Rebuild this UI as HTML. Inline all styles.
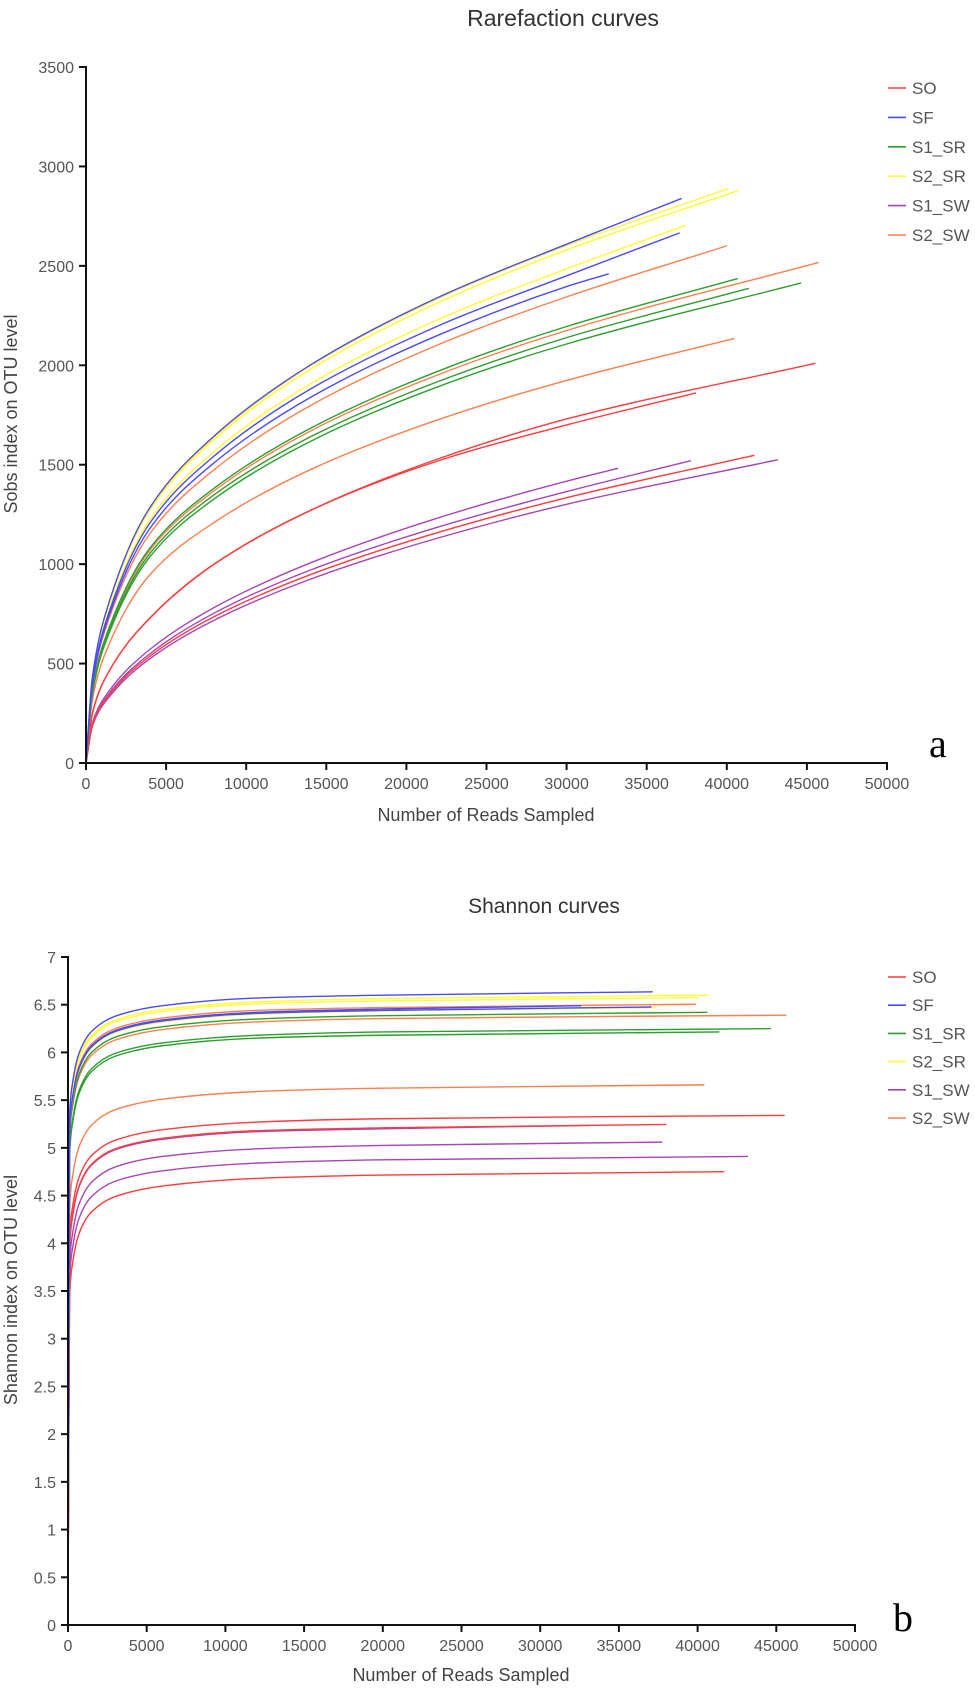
<!DOCTYPE html>
<html><head><meta charset="utf-8"><style>
html,body{margin:0;padding:0;background:#fff}
svg{display:block}
text{font-family:"Liberation Sans",Arial,sans-serif}
</style></head><body>
<svg id="fig" width="975" height="1689" viewBox="0 0 975 1689" xmlns="http://www.w3.org/2000/svg"></svg>
<script>
// ---------- data ----------
const groupNames = ["SO","SF","S1_SR","S2_SR","S1_SW","S2_SW"];
const groupColors = ["#ff3b3b","#4a4aff","#2e9e2e","#ffff33","#a845b4","#ff7f4d"];
const xTicks = [0,5000,10000,15000,20000,25000,30000,35000,40000,45000,50000];
const yTicksA = [0,500,1000,1500,2000,2500,3000,3500];
const yTicksB = [0,0.5,1,1.5,2,2.5,3,3.5,4,4.5,5,5.5,6,6.5,7];
const yTickLabelsB = ["0","0.5","1","1.5","2","2.5","3","3.5","4","4.5","5","5.5","6","6.5","7"];

// Rarefaction sample points (reads sampled) and Sobs values
const rareX = [0,400,1500,4000,8000,14000,22000,30000];
const rareCurves = [
 {g:4,end:33220,y:[0,202,368,572,782,1006,1233,1417,1482]},
 {g:4,end:37760,y:[0,195,354,550,754,970,1187,1365,1520]},
 {g:4,end:43200,y:[0,186,337,525,718,924,1132,1301,1525]},
 {g:0,end:45530,y:[0,250,470,730,1000,1270,1530,1730,2010]},
 {g:0,end:38070,y:[0,250,470,730,1000,1270,1520,1700,1861]},
 {g:0,end:41720,y:[0,190,347,538,736,947,1160,1334,1547]},
 {g:5,end:40020,y:[0,389,740,1155,1475,1797,2104,2344,2601]},
 {g:5,end:45730,y:[0,361,687,1072,1369,1669,1953,2175,2517]},
 {g:5,end:40480,y:[0,319,608,948,1210,1475,1727,1924,2135]},
 {g:2,end:40680,y:[0,364,693,1082,1382,1683,1971,2195,2436]},
 {g:2,end:41380,y:[0,355,675,1055,1349,1640,1919,2139,2387]},
 {g:2,end:44640,y:[0,350,665,1038,1328,1617,1893,2107,2414]},
 {g:3,end:40090,y:[0,431,822,1282,1637,1996,2336,2602,2888]},
 {g:3,end:40750,y:[0,428,814,1273,1627,1979,2316,2580,2880]},
 {g:3,end:37410,y:[0,412,784,1225,1566,1906,2231,2485,2704]},
 {g:1,end:37180,y:[0,432,823,1286,1644,2001,2342,2609,2839]},
 {g:1,end:37060,y:[0,406,772,1208,1544,1880,2199,2450,2666]},
 {g:1,end:32630,y:[0,397,755,1181,1510,1838,2152,2396,2460]}
];

// Shannon sample points
const shanX = [0,100,300,700,1500,3000,6000,12000,20000];
const shanCurves = [
 {g:4,end:33200,y:[0,3.94,4.29,4.59,4.82,4.98,5.09,5.17,5.20,5.235]},
 {g:4,end:37750,y:[0,3.76,4.11,4.41,4.64,4.80,4.91,4.99,5.025,5.06]},
 {g:4,end:43200,y:[0,3.61,3.96,4.26,4.49,4.65,4.76,4.84,4.875,4.91]},
 {g:0,end:45530,y:[0,4.04,4.39,4.69,4.92,5.08,5.19,5.27,5.305,5.34]},
 {g:0,end:38020,y:[0,3.95,4.30,4.60,4.83,4.99,5.10,5.18,5.21,5.245]},
 {g:0,end:41700,y:[0,3.45,3.80,4.10,4.33,4.49,4.60,4.68,4.715,4.75]},
 {g:5,end:39900,y:[0,5.21,5.56,5.86,6.09,6.25,6.36,6.44,6.47,6.505]},
 {g:5,end:45650,y:[0,5.09,5.44,5.74,5.97,6.13,6.24,6.32,6.355,6.39]},
 {g:5,end:40430,y:[0,4.36,4.71,5.01,5.24,5.40,5.51,5.59,5.625,5.66]},
 {g:2,end:40630,y:[0,5.12,5.47,5.77,6.00,6.16,6.27,6.35,6.385,6.42]},
 {g:2,end:41380,y:[0,4.92,5.27,5.57,5.80,5.96,6.07,6.15,6.18,6.215]},
 {g:2,end:44660,y:[0,4.95,5.30,5.60,5.83,5.99,6.10,6.18,6.215,6.25]},
 {g:3,end:40710,y:[0,5.30,5.65,5.95,6.18,6.34,6.45,6.53,6.565,6.60]},
 {g:3,end:40090,y:[0,5.28,5.63,5.93,6.16,6.32,6.43,6.51,6.54,6.575]},
 {g:3,end:37410,y:[0,5.17,5.52,5.82,6.05,6.21,6.32,6.40,6.435,6.47]},
 {g:1,end:37150,y:[0,5.34,5.69,5.99,6.22,6.38,6.49,6.57,6.60,6.635]},
 {g:1,end:37070,y:[0,5.18,5.53,5.83,6.06,6.22,6.33,6.41,6.44,6.476]},
 {g:1,end:32600,y:[0,5.19,5.54,5.84,6.07,6.23,6.34,6.42,6.455,6.49]}
];

// ---------- drawing ----------
const NS="http://www.w3.org/2000/svg";
const svg=document.getElementById('fig');
function mk(tag,attrs,parent){const e=document.createElementNS(NS,tag);for(const k in attrs)e.setAttribute(k,attrs[k]);(parent||svg).appendChild(e);return e;}
function txt(s,attrs,parent){const e=mk('text',attrs,parent);e.textContent=s;return e;}

function monotonePath(pts){
  const n=pts.length;if(n<2)return '';
  const dx=[],dy=[],m=[];
  for(let i=0;i<n-1;i++){dx.push(pts[i+1][0]-pts[i][0]);dy.push(pts[i+1][1]-pts[i][1]);m.push(dy[i]/dx[i]);}
  const t=[m[0]];
  for(let i=1;i<n-1;i++){ if(m[i-1]*m[i]<=0)t.push(0); else t.push(3*(dx[i-1]+dx[i])/((2*dx[i]+dx[i-1])/m[i-1]+(dx[i]+2*dx[i-1])/m[i])); }
  t.push(m[n-2]);
  let d='M'+pts[0][0].toFixed(2)+','+pts[0][1].toFixed(2);
  for(let i=0;i<n-1;i++){
    const h=dx[i]/3;
    d+=' C'+(pts[i][0]+h).toFixed(2)+','+(pts[i][1]+h*t[i]).toFixed(2)+' '+(pts[i+1][0]-h).toFixed(2)+','+(pts[i+1][1]-h*t[i+1]).toFixed(2)+' '+pts[i+1][0].toFixed(2)+','+pts[i+1][1].toFixed(2);
  }
  return d;
}

function chart(cfg){
  const g=mk('g',{});
  
  
  const xs=v=>cfg.x0+(v-0)/50000*(cfg.x1-cfg.x0);
  const ys=v=>cfg.y0-(v/cfg.ymax)*(cfg.y0-cfg.y1);
  const t=txt(cfg.title,{x:cfg.titleX,y:cfg.titleY,'text-anchor':'middle','font-size':cfg.titleSize,fill:'#333'},g);
  
  
  const cg=mk('g',{fill:'none','stroke-width':1.4},g);
  
  
  cfg.curves.forEach((c,i)=>{
    const pts=cfg.xs.map((xv,j)=>[xs(xv),ys(c.y[j])]);
    pts.push([xs(c.end),ys(c.y[c.y.length-1])]);
    const p=mk('path',{d:monotonePath(pts),stroke:groupColors[c.g]},cg);
    
    
  });
  const ax=mk('g',{stroke:'#111','stroke-width':2,fill:'none'},g);
  
  
  mk('line',{x1:cfg.x0,y1:cfg.y1-1,x2:cfg.x0,y2:cfg.y0+1},ax);
  mk('line',{x1:cfg.x0-1,y1:cfg.y0,x2:cfg.x1+1,y2:cfg.y0},ax);
  const tl=mk('g',{'font-size':cfg.tickSize,fill:'#555'},g);
  
  
  xTicks.forEach(v=>{
    const x=xs(v);
    mk('line',{x1:x,y1:cfg.y0,x2:x,y2:cfg.y0+7},ax);
    const e=txt(String(v),{x:x,y:cfg.y0+26,'text-anchor':'middle'},tl);
    
    
  });
  cfg.yTicks.forEach((v,i)=>{
    const y=ys(v);
    mk('line',{x1:cfg.x0-7,y1:y,x2:cfg.x0,y2:y},ax);
    const e=txt(cfg.yLabels[i],{x:cfg.x0-12,y:y+6,'text-anchor':'end'},tl);
    
    
  });
  mk('line',{x1:cfg.x0-7,y1:cfg.y1,x2:cfg.x0,y2:cfg.y1},ax);
  const xt=txt('Number of Reads Sampled',{x:cfg.xlabX,y:cfg.xlabY,'text-anchor':'middle','font-size':18,fill:'#444'},g);
  
  
  const yt=txt(cfg.ylab,{x:0,y:0,'text-anchor':'middle','font-size':18,fill:'#444',transform:'translate('+(cfg.ylabX)+','+cfg.ylabY+') rotate(-90)'},g);
  
  
  const lg=mk('g',{},g);
  
  
  groupNames.forEach((n,i)=>{
    const y=cfg.legY+i*cfg.legDy;
    const eg=mk('g',{},lg);
    
    
    mk('line',{x1:888,y1:y,x2:906,y2:y,stroke:groupColors[i],'stroke-width':1.6},eg);
    txt(n,{x:912,y:y+6,'font-size':17,fill:'#555'},eg);
  });
  const pl=txt(cfg.panel,{x:cfg.panelX,y:cfg.panelY,'font-size':40,fill:'#000'},g);
  
  
  pl.style.fontFamily='"Liberation Serif",serif';
}

chart({name:'rarefaction-chart',title:'Rarefaction curves',titleX:563,titleY:26,titleSize:23,
  x0:86,x1:887,y0:763,y1:67,ymax:3500,xs:rareX,curves:rareCurves,
  yTicks:yTicksA,yLabels:yTicksA.map(String),tickSize:16,
  xlabX:486,xlabY:821,ylab:'Sobs index on OTU level',ylabX:17,ylabY:414,
  legY:88,legDy:29.4,panel:'a',panelX:929,panelY:757});

chart({name:'shannon-chart',title:'Shannon curves',titleX:544,titleY:913,titleSize:21,
  x0:68,x1:855,y0:1625,y1:957,ymax:7,xs:shanX,curves:shanCurves,
  yTicks:yTicksB,yLabels:yTickLabelsB,tickSize:16,
  xlabX:461,xlabY:1681,ylab:'Shannon index on OTU level',ylabX:17,ylabY:1290,
  legY:977,legDy:28.2,panel:'b',panelX:893,panelY:1631});
</script>
</body></html>
